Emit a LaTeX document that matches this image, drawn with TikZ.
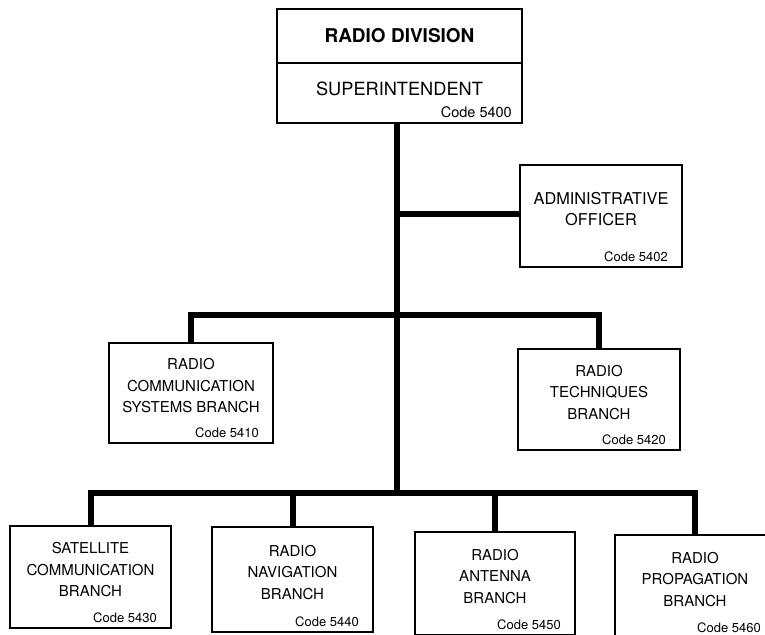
\documentclass[tikz,border=0pt]{standalone}
\usepackage{fontspec}
\setmainfont{TeX Gyre Heros}
\usetikzlibrary{positioning}
\makeatletter
\newcommand\unitbox{}
\newcommand\unitbox@aux{}
\newcommand\unitbox@noaux{}
\def\unitbox{%
  \@ifnextchar[\unitbox@aux\unitbox@noaux
}
\def\unitbox@noaux{%
  \unitbox@aux[]%
}
\def\unitbox@aux[#1]#2#3#4#5{%
  \begin{scope}[#1]
    \node[unit] (#2) at (#3) {};
    \node[unittext] (#2-text) at ([yshift=7pt]#2.center) {#4};
    \node[unitcode] (#2-code) at ([xshift=-14pt,yshift=6pt]#2.south east) {Code #5};
  \end{scope}
}
\makeatother

\begin{document}
\begin{tikzpicture}[
  x=1pt, y=-1pt,
  unit/.style={
    draw,
    line width=1.1pt,
    minimum width=161pt,
    minimum height=103pt,
    inner sep=0pt,
    outer sep=0pt
  },
  unittext/.style={align=center, inner sep=0pt, font=\fontsize{15}{21.5}\selectfont},
  unitcode/.style={anchor=base east, inner sep=0pt, font=\fontsize{13}{15}\selectfont},
  link/.style={line width=6pt}
]
  \useasboundingbox (0,0) rectangle (765,634);
  \clip (0,0) rectangle (765,634);

  % division head
  \node[unit,minimum width=245pt,minimum height=54pt] (div) at (399.5,36) {};
  \node[inner sep=0pt,font=\fontsize{19}{22}\selectfont\bfseries] (div-text) at (div.center) {RADIO DIVISION};
  \node[unit,minimum width=245pt,minimum height=60pt,below=0pt of div] (sup) {};
  \node[inner sep=0pt,font=\fontsize{18.2}{21}\selectfont] (sup-text) at ([yshift=4pt]sup.center) {SUPERINTENDENT};
  \node[unitcode,font=\fontsize{14.5}{17}\selectfont] (sup-code) at ([xshift=-10pt,yshift=6pt]sup.south east) {Code 5400};

  % staff and branches
  \unitbox[unit/.append style={minimum width=162pt,minimum height=102pt},
    unittext/.append style={font=\fontsize{16.3}{21}\selectfont}]{admin}{601,216}{ADMINISTRATIVE\\OFFICER}{5402}
  \unitbox[unit/.append style={minimum width=164pt,minimum height=100pt}]{comm}{191,393}{RADIO\\COMMUNICATION\\SYSTEMS BRANCH}{5410}
  \unitbox[unit/.append style={minimum width=162pt,minimum height=101pt}]{tech}{599,399.5}{RADIO\\TECHNIQUES\\BRANCH}{5420}
  \unitbox[unit/.append style={minimum height=102pt}]{sat}{90.5,577}{SATELLITE\\COMMUNICATION\\BRANCH}{5430}
  \unitbox[unit/.append style={minimum height=105pt}]{nav}{292.5,579.5}{RADIO\\NAVIGATION\\BRANCH}{5440}
  \unitbox[unit/.append style={minimum width=160pt}]{ant}{495,583.5}{RADIO\\ANTENNA\\BRANCH}{5450}
  \unitbox[unit/.append style={minimum width=160pt}]{prop}{695,586.5}{RADIO\\PROPAGATION\\BRANCH}{5460}

  % trunk lines
  \coordinate (trunk-admin) at (397,214);
  \coordinate (trunk-branch) at (397,315);
  \coordinate (trunk-group) at (397,493);
  \draw[link] (sup.south -| trunk-group) -- (trunk-group);
  \draw[link] (trunk-admin) -- (trunk-admin -| admin.west);
  \draw[link] (comm.north) |- (trunk-branch) -| (tech.north);
  \draw[link] (sat.north) |- (trunk-group) -| (prop.north);
  \foreach \b in {nav,ant}
    \draw[link] (\b.north) -- (\b.north |- trunk-group);
\end{tikzpicture}
\end{document}
